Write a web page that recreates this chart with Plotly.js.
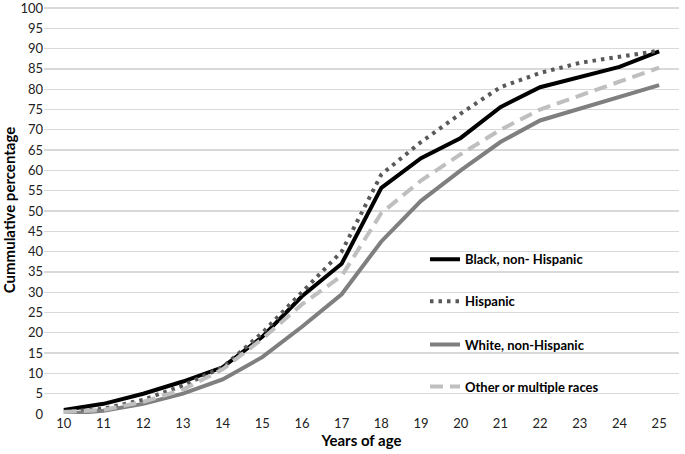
<!DOCTYPE html>
<html>
<head>
<meta charset="utf-8">
<script src="https://cdn.plot.ly/plotly-3.0.1.min.js"></script>
<style>html,body{margin:0;padding:0;background:#fff}#chart{width:685px;height:454px}</style>
</head>
<body>
<div id="chart"></div>
<script>
const ages = [10,11,12,13,14,15,16,17,18,19,20,21,22,23,24,25];
const blackNonHispanic = [1,2.5,5,8,11.5,19,29,37,55.7,63,68,75.6,80.5,83,85.5,89.3];
const hispanic = [0.5,1.3,3.5,7,11.5,20,30,40,59,67,74,80.5,84,86.5,88,89.5];
const whiteNonHispanic = [0,0.8,2.5,5,8.5,14,21.5,29.5,42.5,52.5,60,67,72.3,75.2,78.2,81];
const otherMultiple = [0.5,1,3,6,11,18.5,27,34,49.5,57.5,64,70,75,78.5,82,85.3];
const yTicks = [0,5,10,15,20,25,30,35,40,45,50,55,60,65,70,75,80,85,90,95,100];

const font = "Lato, Open Sans, sans-serif";
function tr(name, y, color, dash, legend) {
  return {x: ages, y: y, name: name, type: 'scatter', mode: 'lines',
    line: {color: color, width: 4, dash: dash}, legend: legend, hoverinfo: 'skip'};
}
const data = [
  tr('Black, non- Hispanic', blackNonHispanic, '#000000', 'solid', 'legend'),
  tr('Hispanic', hispanic, '#595959', '3.5px,5px', 'legend2'),
  tr('White, non-Hispanic', whiteNonHispanic, '#7f7f7f', 'solid', 'legend3'),
  tr('Other or multiple races', otherMultiple, '#bfbfbf', '13px,7px', 'legend4')
];
function leg(y) {
  return {x: 0.6, y: y, xanchor: 'left', yanchor: 'middle', bgcolor: 'rgba(0,0,0,0)',
    font: {family: font, size: 13, color: '#000', weight: 'bold'}, itemwidth: 30, tracegroupgap: 0};
}
const layout = {
  width: 685, height: 454,
  margin: {l: 44, r: 6, t: 6, b: 40},
  paper_bgcolor: '#fff', plot_bgcolor: '#fff',
  showlegend: true,
  legend: leg(0.379), legend2: leg(0.276), legend3: leg(0.170), legend4: leg(0.067),
  xaxis: {
    range: [9.5, 25.5], tickvals: ages, ticktext: ages.map(String),
    showgrid: false, zeroline: false, showline: false, ticks: '',
    tickfont: {family: font, size: 13, color: '#222'},
    title: {text: 'Years of age', font: {family: font, size: 15, color: '#000', weight: 'bold'}, standoff: 2}
  },
  yaxis: {
    range: [0, 100.5], tickvals: yTicks, ticktext: yTicks.map(String),
    showgrid: true, gridcolor: '#d9d9d9', gridwidth: 1.3, zeroline: false, showline: false, ticks: '',
    ticklabeloverflow: 'allow',
    tickfont: {family: font, size: 13, color: '#222'},
    title: {text: 'Cummulative percentage', font: {family: font, size: 15, color: '#000', weight: 'bold'}, standoff: 2}
  }
};
Plotly.newPlot('chart', data, layout, {displayModeBar: false, staticPlot: true});
</script>
</body>
</html>
